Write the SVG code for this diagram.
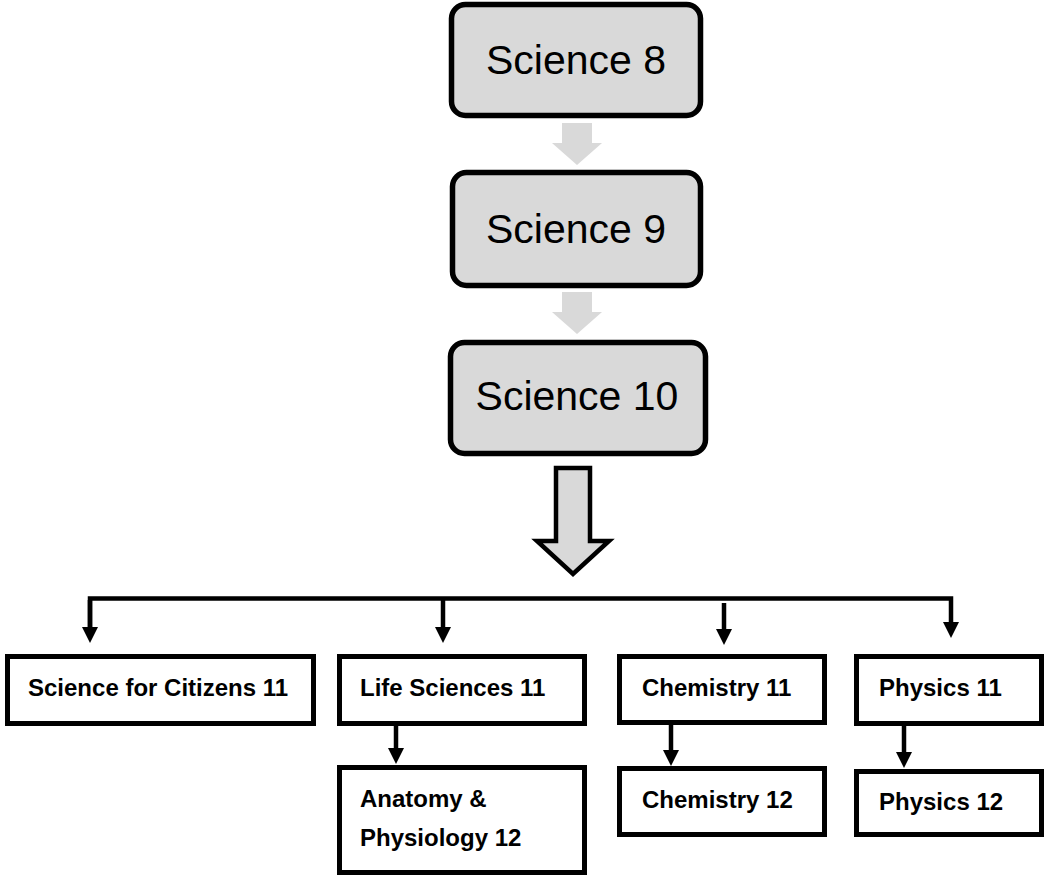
<svg xmlns="http://www.w3.org/2000/svg" width="1044" height="877" viewBox="0 0 1044 877">
<defs>
<style>
.top{fill:#d9d9d9;stroke:#000;stroke-width:5.5}
.box{fill:#fff;stroke:#000;stroke-width:5}
.big{font-family:"Liberation Sans",Arial,sans-serif;font-size:41px;fill:#000;text-anchor:middle}
.lbl{font-family:"Liberation Sans",Arial,sans-serif;font-weight:bold;font-size:24px;fill:#000}
.ln{fill:none;stroke:#000;stroke-width:4.5}
</style>
<marker id="ah" markerUnits="userSpaceOnUse" markerWidth="16" markerHeight="16" viewBox="0 0 16 16" refX="8" refY="8" orient="auto">
<path d="M0,0 L16,8 L0,16 Z" fill="#000"/>
</marker>
</defs>
<rect width="1044" height="877" fill="#fff"/>
<g id="science8">
<rect class="top" x="451.5" y="4.5" width="249" height="111" rx="14"/>
<text class="big" x="576" y="74">Science 8</text>
</g>
<g id="science9">
<rect class="top" x="452.5" y="172.5" width="248" height="113" rx="14"/>
<text class="big" x="576" y="243">Science 9</text>
</g>
<g id="science10">
<rect class="top" x="450.5" y="342.5" width="255" height="111" rx="14"/>
<text class="big" x="577" y="410">Science 10</text>
</g>
<g id="sci11">
<rect class="box" x="7.5" y="656.5" width="306" height="67"/>
<text class="lbl" x="28" y="696">Science for Citizens 11</text>
</g>
<g id="life11">
<rect class="box" x="339.5" y="656.5" width="245" height="67"/>
<text class="lbl" x="360" y="696">Life Sciences 11</text>
</g>
<g id="anatomy12">
<rect class="box" x="339.5" y="767.5" width="245" height="105"/>
<text class="lbl" x="360" y="807">Anatomy &amp;</text>
<text class="lbl" x="360" y="846">Physiology 12</text>
</g>
<g id="chem11">
<rect class="box" x="619.5" y="656.5" width="205" height="66"/>
<text class="lbl" x="642" y="696">Chemistry 11</text>
</g>
<g id="chem12">
<rect class="box" x="619.5" y="768.5" width="205" height="66"/>
<text class="lbl" x="642" y="808">Chemistry 12</text>
</g>
<g id="phys11">
<rect class="box" x="856.5" y="656.5" width="185" height="67"/>
<text class="lbl" x="879" y="696">Physics 11</text>
</g>
<g id="phys12">
<rect class="box" x="856.5" y="771.5" width="185" height="63"/>
<text class="lbl" x="879" y="810">Physics 12</text>
</g>
<g id="connectors">
<polygon points="562,123 592,123 592,143 602,143 577,165 552,143 562,143" fill="#d9d9d9"/>
<polygon points="562,292 592,292 592,312 602,312 577,334 552,312 562,312" fill="#d9d9d9"/>
<polygon points="556,468 590,468 590,541 609,541 573,574 537,541 556,541" fill="#d9d9d9" stroke="#000" stroke-width="4.5"/>
<polyline class="ln" points="90,635 90,598.5 951,598.5 951,630" marker-end="url(#ah)"/>
<line class="ln" x1="90" y1="600" x2="90" y2="635" marker-end="url(#ah)"/>
<line class="ln" x1="443" y1="598" x2="443" y2="635" marker-end="url(#ah)"/>
<line class="ln" x1="724" y1="603" x2="724" y2="637" marker-end="url(#ah)"/>
<line class="ln" x1="396" y1="726" x2="396" y2="756" marker-end="url(#ah)"/>
<line class="ln" x1="671" y1="725" x2="671" y2="758" marker-end="url(#ah)"/>
<line class="ln" x1="904" y1="726" x2="904" y2="760" marker-end="url(#ah)"/>
</g>
</svg>
